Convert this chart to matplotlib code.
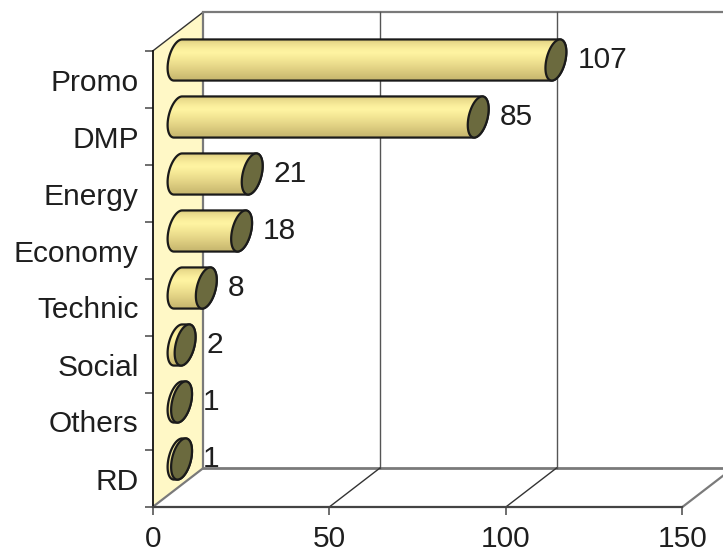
import numpy as np
import matplotlib
matplotlib.use("Agg")
import matplotlib.pyplot as plt
from matplotlib.patches import Polygon
from matplotlib.colors import LinearSegmentedColormap

# ---- data -------------------------------------------------------------
categories = ["Promo", "DMP", "Energy", "Economy", "Technic", "Social", "Others", "RD"]
values = [107, 85, 21, 18, 8, 2, 1, 1]
x_ticks = [0, 50, 100, 150]

# ---- styling ----------------------------------------------------------
plt.rcParams["font.family"] = ["Liberation Sans", "DejaVu Sans"]
FS = 21.5
TEXT = "#1e1e1e"
WALL = "#FFF8C6"
CAP = "#6B6A3E"
GRID = "#7a7a7a"

# oblique depth vector (data units of the front plane) for full depth
DX, DY = 14.35, 0.684
# cylinder cross-section radii: vertical (category units) and depth fraction
RY, RD = 0.332, 0.206
DEPTH_C = 0.5  # cylinders sit halfway back

n = len(categories)
fig = plt.figure(figsize=(7.23, 5.55), dpi=100)
# the axes reaches up to the top of the figure so the walls and the top
# cylinder are not clipped; the category scale is 57 px per row
ax = fig.add_axes([152.7 / 723, 48 / 555, 529.7 / 723, 507 / 555])
YTOP = 507 / 57
ax.set_xlim(0, 150)
ax.set_ylim(0, YTOP)
ax.set_facecolor("none")


def proj(v, y, d):
    """oblique projection of (value, category position, depth 0..1)"""
    return v + d * DX, y + d * DY


# ---- walls and floor --------------------------------------------------
xmax_wall = 175
# left wall
lw = [proj(0, 0, 0), proj(0, n, 0), proj(0, n, 1), proj(0, 0, 1)]
ax.add_patch(Polygon(lw, closed=True, facecolor=WALL, edgecolor="none",
                     zorder=1, clip_on=False))
# left wall edges
for (p, q, c, lwid) in [
    (proj(0, n, 0), proj(0, n, 1), "#333333", 1.0),
    (proj(0, 0, 0), proj(0, 0, 1), GRID, 1.6),
    (proj(0, 0, 1), proj(0, n, 1), GRID, 1.6),
]:
    ax.plot([p[0], q[0]], [p[1], q[1]], color=c, lw=lwid, zorder=2,
            clip_on=False, solid_capstyle="butt")

# back wall top and base lines
ax.plot([DX, xmax_wall], [n + DY, n + DY], color=GRID, lw=1.6, zorder=2,
        clip_on=False)
ax.plot([DX, xmax_wall], [DY, DY], color=GRID, lw=2.0, zorder=2, clip_on=False)

# vertical gridlines on the back wall and their floor diagonals
for t in x_ticks[1:]:
    bx, by0 = proj(t, 0, 1)
    _, by1 = proj(t, n, 1)
    if t < x_ticks[-1]:
        ax.plot([bx, bx], [by0, by1], color="#555555", lw=1.0, zorder=2,
                clip_on=False)
    fx, fy = proj(t, 0, 0)
    ax.plot([fx, bx], [fy, by0], color="#333333" if t < x_ticks[-1] else GRID,
            lw=1.0 if t < x_ticks[-1] else 1.6, zorder=2, clip_on=False)

# ---- cylinders --------------------------------------------------------
body_cmap = LinearSegmentedColormap.from_list(
    "body",
    [(0.0, "#D9C77A"), (0.08, "#EADC8C"), (0.22, "#FAEE9C"), (0.32, "#FFF4A2"),
     (0.55, "#EFE190"), (0.75, "#DDCD80"), (1.0, "#C4B46C")])

alpha = np.arctan2(RD * DY, RY)
ts = np.linspace(0, 2 * np.pi, 200)


def ellipse(cx, cy, t):
    return (cx + RD * DX * np.sin(t), cy + RY * np.cos(t) + RD * DY * np.sin(t))


for i, (name, v) in enumerate(zip(categories, values)):
    row = n - 1 - i
    lx, ly = proj(0, row + 0.5, DEPTH_C)
    rx, ry = proj(v, row + 0.5, DEPTH_C)

    t_left = np.linspace(alpha + np.pi, alpha + 2 * np.pi, 80)
    t_right = np.linspace(alpha, alpha + np.pi, 80)
    ex1, ey1 = ellipse(lx, ly, t_left)
    ex2, ey2 = ellipse(rx, ry, t_right)
    body_pts = np.column_stack([np.concatenate([ex1, ex2]),
                                np.concatenate([ey1, ey2])])
    body = Polygon(body_pts, closed=True, facecolor="none", edgecolor="#1a1a1a",
                   lw=1.6, zorder=5, joinstyle="round")
    ax.add_patch(body)

    ytop = ey1.max()
    ybot = ey1.min()
    grad = np.linspace(0, 1, 64).reshape(-1, 1)
    im = ax.imshow(grad, cmap=body_cmap, aspect="auto", interpolation="bilinear",
                   extent=[body_pts[:, 0].min() - 1, body_pts[:, 0].max() + 1,
                           ybot, ytop],
                   origin="upper", zorder=4)
    im.set_clip_path(body)

    cx, cy = ellipse(rx, ry, ts)
    ax.add_patch(Polygon(np.column_stack([cx, cy]), closed=True, facecolor=CAP,
                         edgecolor="#1a1a1a", lw=1.6, zorder=6))

    cap_right = rx + RD * DX
    ax.annotate(str(v), xy=(cap_right, ry), xytext=(8, 0),
                textcoords="offset points", ha="left", va="center",
                fontsize=FS, color=TEXT, zorder=7, annotation_clip=False)

# ---- axes, ticks and labels --------------------------------------------
ax.set_xlim(0, 150)
ax.set_ylim(0, YTOP)
for s in ["top", "right"]:
    ax.spines[s].set_visible(False)
ax.spines["left"].set_bounds(0, n)
ax.spines["left"].set_color("#111111")
ax.spines["left"].set_linewidth(1.3)
ax.spines["bottom"].set_color("#444444")
ax.spines["bottom"].set_linewidth(1.6)
ax.spines["left"].set_zorder(3)
ax.spines["bottom"].set_zorder(3)

ax.set_xticks(x_ticks)
ax.set_xticklabels([str(t) for t in x_ticks])
ax.set_yticks(np.arange(n + 1))
ax.set_yticklabels([])
ax.set_yticks(np.arange(n) + 0.5, minor=True)
ax.set_yticklabels(categories[::-1], minor=True)
ax.tick_params(axis="y", which="major", direction="out", length=5.5,
               width=1.2, color="#555555")
ax.tick_params(axis="y", which="minor", length=0, pad=10, labelsize=FS,
               labelcolor=TEXT)
ax.tick_params(axis="x", direction="out", length=6, width=1.2,
               color="#555555", pad=7, labelsize=FS, labelcolor=TEXT)

fig.savefig("out.png", dpi=100)
